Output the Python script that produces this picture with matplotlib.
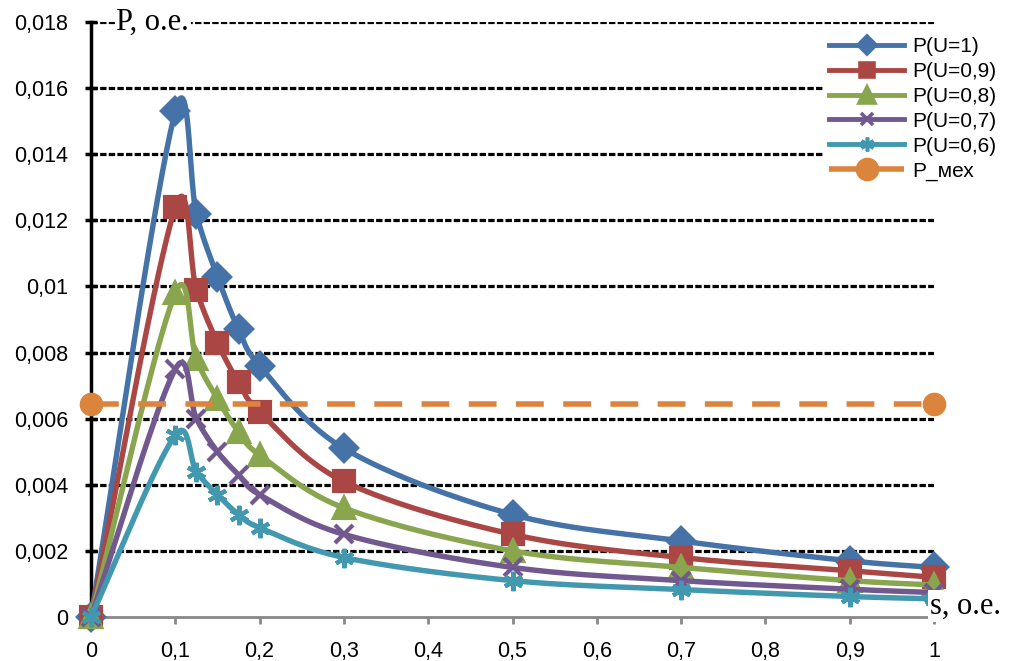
import numpy as np
import matplotlib
matplotlib.use('Agg')
import matplotlib.pyplot as plt

# data
s = [0, 0.1, 0.125, 0.15, 0.175, 0.2, 0.3, 0.5, 0.7, 0.9, 1]
P_u10 = [0, 0.0153, 0.0122, 0.0103, 0.0087, 0.0076, 0.0051, 0.0031, 0.0023, 0.0017, 0.0015]
P_u09 = [0, 0.0124, 0.0099, 0.0083, 0.0071, 0.0062, 0.0041, 0.0025, 0.0018, 0.0014, 0.0012]
P_u08 = [0, 0.0098, 0.0078, 0.0066, 0.0056, 0.0049, 0.0033, 0.0020, 0.0015, 0.0011, 0.00097]
P_u07 = [0, 0.0075, 0.0060, 0.0050, 0.0043, 0.0037, 0.0025, 0.0015, 0.0011, 0.00084, 0.00074]
P_u06 = [0, 0.0055, 0.0044, 0.0037, 0.0031, 0.0027, 0.0018, 0.0011, 0.00083, 0.00062, 0.00055]
s_mech = [0, 1]
P_mech = [0.00645, 0.00645]

labels = ['P(U=1)', 'P(U=0,9)', 'P(U=0,8)', 'P(U=0,7)', 'P(U=0,6)']
colors = ['#4572A7', '#AA4643', '#89A54E', '#71588F', '#4198AF']
markers = ['D', 's', '^', 'x', (6, 2, 0)]
msizes = [13, 14, 15, 13, 14]

yticks = np.arange(0, 0.0181, 0.002)
ytick_labels = ['0', '0,002', '0,004', '0,006', '0,008', '0,01', '0,012', '0,014', '0,016', '0,018']
xticks = np.arange(0, 1.01, 0.1)
xtick_labels = ['0', '0,1', '0,2', '0,3', '0,4', '0,5', '0,6', '0,7', '0,8', '0,9', '1']


# Excel-like smoothed line (bezier through the points, in pixel-like units)
def smooth(x, y, sx=843.0, sy=33056.0, n=40):
    P = np.column_stack([np.asarray(x) * sx, np.asarray(y) * sy])
    P = np.vstack([P[0], P, P[-1]])
    d = np.sqrt(np.hypot(*np.diff(P, axis=0).T)) + 1e-9
    t = np.linspace(0, 1, n)[:, None]
    out = []
    for i in range(1, len(P) - 2):
        p0, p1, p2, p3 = P[i - 1], P[i], P[i + 1], P[i + 2]
        # half uniform, half centripetal weighting
        w1 = 0.25 + 0.5 * d[i] / (d[i - 1] + d[i])
        w2 = 0.25 + 0.5 * d[i] / (d[i] + d[i + 1])
        c1 = p1 + (p2 - p0) * w1 / 3
        c2 = p2 - (p3 - p1) * w2 / 3
        seg = (1 - t)**3 * p1 + 3 * (1 - t)**2 * t * c1 + 3 * (1 - t) * t**2 * c2 + t**3 * p2
        out.append(seg)
    out = np.vstack(out)
    return out[:, 0] / sx, out[:, 1] / sy


plt.rcParams['font.family'] = ['Liberation Sans', 'DejaVu Sans']

fig = plt.figure(figsize=(10.1, 6.61), dpi=100)
ax = fig.add_axes([91 / 1010, 44 / 661, 843 / 1010, 595 / 661])

series = [P_u10, P_u09, P_u08, P_u07, P_u06]
for i, vals in enumerate(series):
    xs, ys = smooth(s, vals)
    ax.plot(xs, ys, color=colors[i], lw=3.9, zorder=3 + i, clip_on=False,
            solid_capstyle='round', solid_joinstyle='round')
    ax.plot(s, vals, ls='none', marker=markers[i], ms=msizes[i], color=colors[i],
            mew=3, zorder=3 + i, clip_on=False)
    # dummy for legend
    ax.plot([], [], color=colors[i], lw=3.5, marker=markers[i], ms=msizes[i] - 4,
            mew=2.6, label=labels[i])

ax.plot(s_mech, P_mech, color='#DB843D', lw=4, ls=(0, (5, 3.5)), marker='o', ms=16,
        zorder=9, clip_on=False, label='P_мех')

ax.set_xlim(0, 1)
ax.set_ylim(0, 0.018)
ax.set_yticks(yticks)
ax.set_yticklabels(ytick_labels)
ax.set_xticks(xticks)
ax.set_xticklabels(xtick_labels)

for y in yticks[1:]:
    ax.axhline(y, color='black', lw=2.3, ls=(0, (2.0, 0.7)), zorder=1)

for sp in ['top', 'right']:
    ax.spines[sp].set_visible(False)
ax.spines['left'].set_linewidth(2.5)
ax.spines['left'].set_color('black')
ax.spines['left'].set_zorder(2)
ax.spines['bottom'].set_linewidth(2)
ax.spines['bottom'].set_color('#888888')
ax.spines['bottom'].set_zorder(2)

ax.tick_params(axis='y', direction='inout', length=9, width=2.5, color='black',
               labelsize=15.5, pad=12)
ax.tick_params(axis='x', direction='out', length=5, width=2, color='#888888',
               labelsize=15.5, pad=12)

ax.text(0.03, 0.018, 'P, o.e.', family='Liberation Serif', fontsize=22,
        va='center', ha='left', zorder=20,
        bbox=dict(facecolor='white', edgecolor='none', pad=1))
ax.text(0.995, 0.0001, 's, o.e.', family='Liberation Serif', fontsize=22,
        va='baseline', ha='left', zorder=20, clip_on=False,
        bbox=dict(facecolor='white', edgecolor='none', pad=1))

leg = ax.legend(loc='upper right', bbox_to_anchor=(1003 / 1010, 630 / 661),
                bbox_transform=fig.transFigure, frameon=True, fontsize=15,
                handlelength=3.6, labelspacing=0.28, numpoints=1,
                borderpad=0.3, handletextpad=0.4, borderaxespad=0)
leg.get_frame().set_facecolor('white')
leg.get_frame().set_edgecolor('none')
leg.get_frame().set_alpha(1)
leg.set_zorder(30)

fig.savefig('out.png', dpi=100)
